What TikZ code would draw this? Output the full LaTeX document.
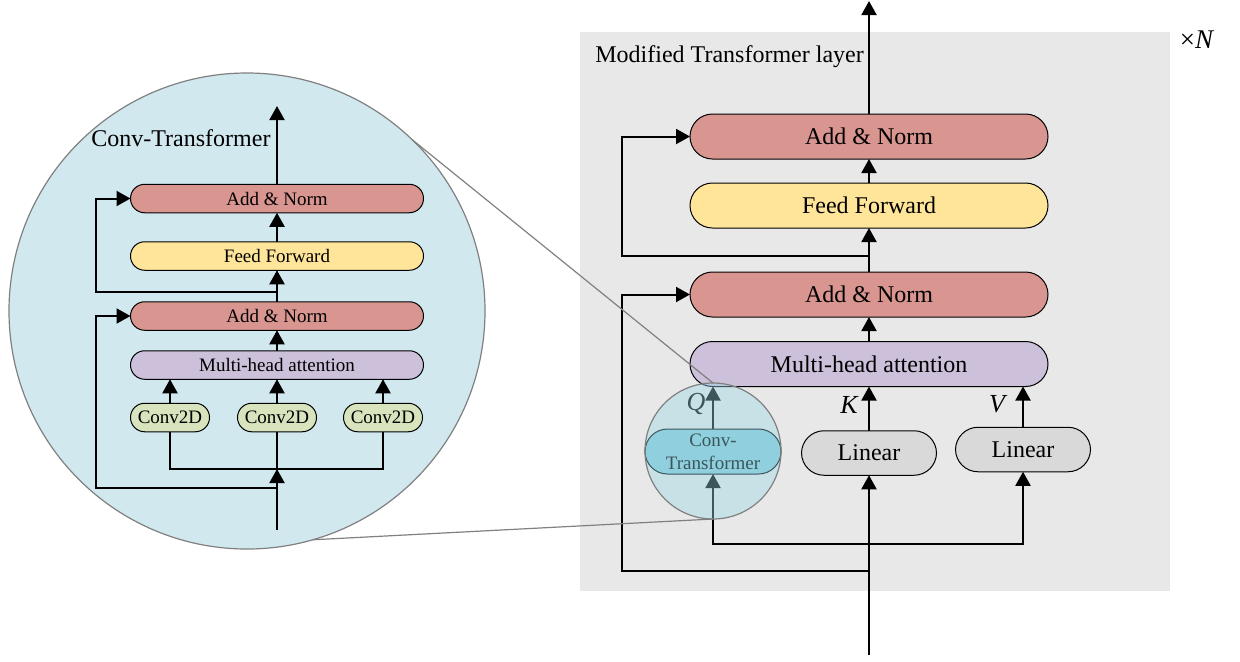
\documentclass[tikz,border=0pt]{standalone}
\usepackage{fontspec}
\setmainfont{Liberation Serif}
\usetikzlibrary{arrows.meta}
\definecolor{addc}{RGB}{217,149,144}
\definecolor{ffc}{RGB}{255,229,153}
\definecolor{mhac}{RGB}{204,192,218}
\definecolor{convc}{RGB}{215,228,189}
\definecolor{linc}{RGB}{217,217,217}
\definecolor{ctc}{RGB}{140,202,216}
\definecolor{bigc}{RGB}{208,232,238}
\definecolor{ovlc}{RGB}{150,215,230}
\definecolor{bgc}{RGB}{232,232,232}
\definecolor{zoomc}{RGB}{128,128,128}
\begin{document}
\begin{tikzpicture}[x=0.5pt,y=-0.5pt,
  pillR/.style={draw, line width=0.5pt, rounded corners=11.25pt, minimum width=179pt, minimum height=22.5pt, inner sep=0pt, outer sep=0pt, font=\fontsize{12}{14}\selectfont},
  linbox/.style={pillR, fill=linc, minimum width=67.5pt, minimum height=22.25pt},
  pillL/.style={draw, line width=0.5pt, rounded corners=7.1pt, minimum width=146.5pt, minimum height=14.25pt, inner sep=0pt, outer sep=0pt, font=\fontsize{9.5}{11}\selectfont},
  convbox/.style={pillL, fill=convc, minimum width=39.5pt},
  conn/.style={line width=1pt},
  arr/.style={line width=1pt, -{Triangle[length=7pt,width=7.5pt]}},
  zoomline/.style={draw=zoomc, line width=0.6pt},
  lbl/.style={font=\fontsize{13}{15}\selectfont\itshape, inner sep=0pt}
]
\useasboundingbox (0,0) rectangle (1240,661);
% right panel background
\fill[bgc] (580,32) rectangle (1170,591);
% big zoom circle
\node[circle, draw=zoomc, fill=bigc, line width=0.6pt, minimum size=238pt, inner sep=0pt, outer sep=0pt] (big) at (247,311) {};

% ---------- left (Conv-Transformer) ----------
\node[pillL, fill=addc] (lan2) at (277,198.5) {Add \& Norm};
\node[pillL, fill=ffc] (lff) at (277,256) {Feed Forward};
\node[pillL, fill=addc] (lan1) at (277,316) {Add \& Norm};
\node[pillL, fill=mhac] (lmha) at (277,365) {Multi-head attention};
\node[convbox] (c1) at (170,417.5) {Conv2D};
\node[convbox] (c2) at (277,417.5) {Conv2D};
\node[convbox] (c3) at (383,417.5) {Conv2D};
\node[anchor=west, inner sep=0pt, font=\fontsize{12}{14}\selectfont] (ltitle) at (91,138) {Conv-Transformer};

\coordinate (lin) at (277,530);
\coordinate (lj) at (277,469);
\coordinate (ls1) at (277,488);
\coordinate (lk1) at (96,488);
\coordinate (ls2) at (277,292);
\coordinate (lk2) at (96,292);
\coordinate (lout) at (277,106);

\draw[arr] (lin) -- (lj);
\draw[conn] (c1.south) |- (lj) -| (c3.south);
\draw[conn] (c2.south) -- (lj);
\draw[arr] (ls1) -- (lk1) |- (lan1.west);
\draw[arr] (c1.north) -- (c1.north |- lmha.south);
\draw[arr] (c2.north) -- (lmha.south);
\draw[arr] (c3.north) -- (c3.north |- lmha.south);
\draw[arr] (lmha.north) -- (lan1.south);
\draw[arr] (lan1.north) -- (lff.south);
\draw[arr] (ls2) -- (lk2) |- (lan2.west);
\draw[arr] (lff.north) -- (lan2.south);
\draw[arr] (lan2.north) -- (lout);

% ---------- right (Modified Transformer layer) ----------
\node[pillR, fill=addc] (an2) at (869,136.5) {Add \& Norm};
\node[pillR, fill=ffc] (ff) at (869,205.5) {Feed Forward};
\node[pillR, fill=addc] (an1) at (869,294.5) {Add \& Norm};
\node[pillR, fill=mhac] (mha) at (869,364) {Multi-head attention};
\node[linbox] (linK) at (869,453) {Linear};
\node[linbox] (linV) at (1023,449.5) {Linear};
\node[draw, line width=0.5pt, fill=ctc, rounded corners=11.25pt, minimum width=68pt, minimum height=22.5pt, inner sep=0pt, outer sep=0pt, align=center, font=\fontsize{9.5}{11.5}\selectfont] (ct) at (713,451.5) {Conv-\\Transformer};

\node[anchor=west, inner sep=0pt, font=\fontsize{12}{15}\selectfont] (mtl) at (595,57) {Modified Transformer layer};
\node[inner sep=0pt, font=\fontsize{13.5}{15}\selectfont] (xn) at (1197,40) {×\textit{N}};

\coordinate (rin) at (869,655);
\coordinate (rs1) at (869,571);
\coordinate (rk1) at (622,571);
\coordinate (rj) at (869,544);
\coordinate (rs2) at (869,256);
\coordinate (rk2) at (622,256);
\coordinate (rout) at (869,1);

\draw[arr] (rin) -- (linK.south);
\draw[arr] (rs1) -- (rk1) |- (an1.west);
\draw[arr] (rj) -| (ct.south);
\draw[arr] (rj) -| (linV.south);
\draw[arr] (ct.north) -- (ct.north |- mha.south);
\draw[arr] (linK.north) -- (mha.south);
\draw[arr] (linV.north) -- (linV.north |- mha.south);
\draw[arr] (mha.north) -- (an1.south);
\draw[arr] (an1.north) -- (ff.south);
\draw[arr] (rs2) -- (rk2) |- (an2.west);
\draw[arr] (ff.north) -- (an2.south);
\draw[arr] (an2.north) -- (rout);

\node[lbl] (q) at (696,404) {Q};
\node[lbl] (k) at (849,405) {K};
\node[lbl] (v) at (997,404) {V};

% small zoom circle overlay
\node[circle, draw=zoomc, line width=0.6pt, fill=ovlc, fill opacity=0.4, minimum size=68pt, inner sep=0pt, outer sep=0pt] (sc) at (713,451) {};
\draw[zoomline] (big.46) -- (sc.north);
\draw[zoomline] (big.-74.5) -- (sc.south);
\end{tikzpicture}
\end{document}
